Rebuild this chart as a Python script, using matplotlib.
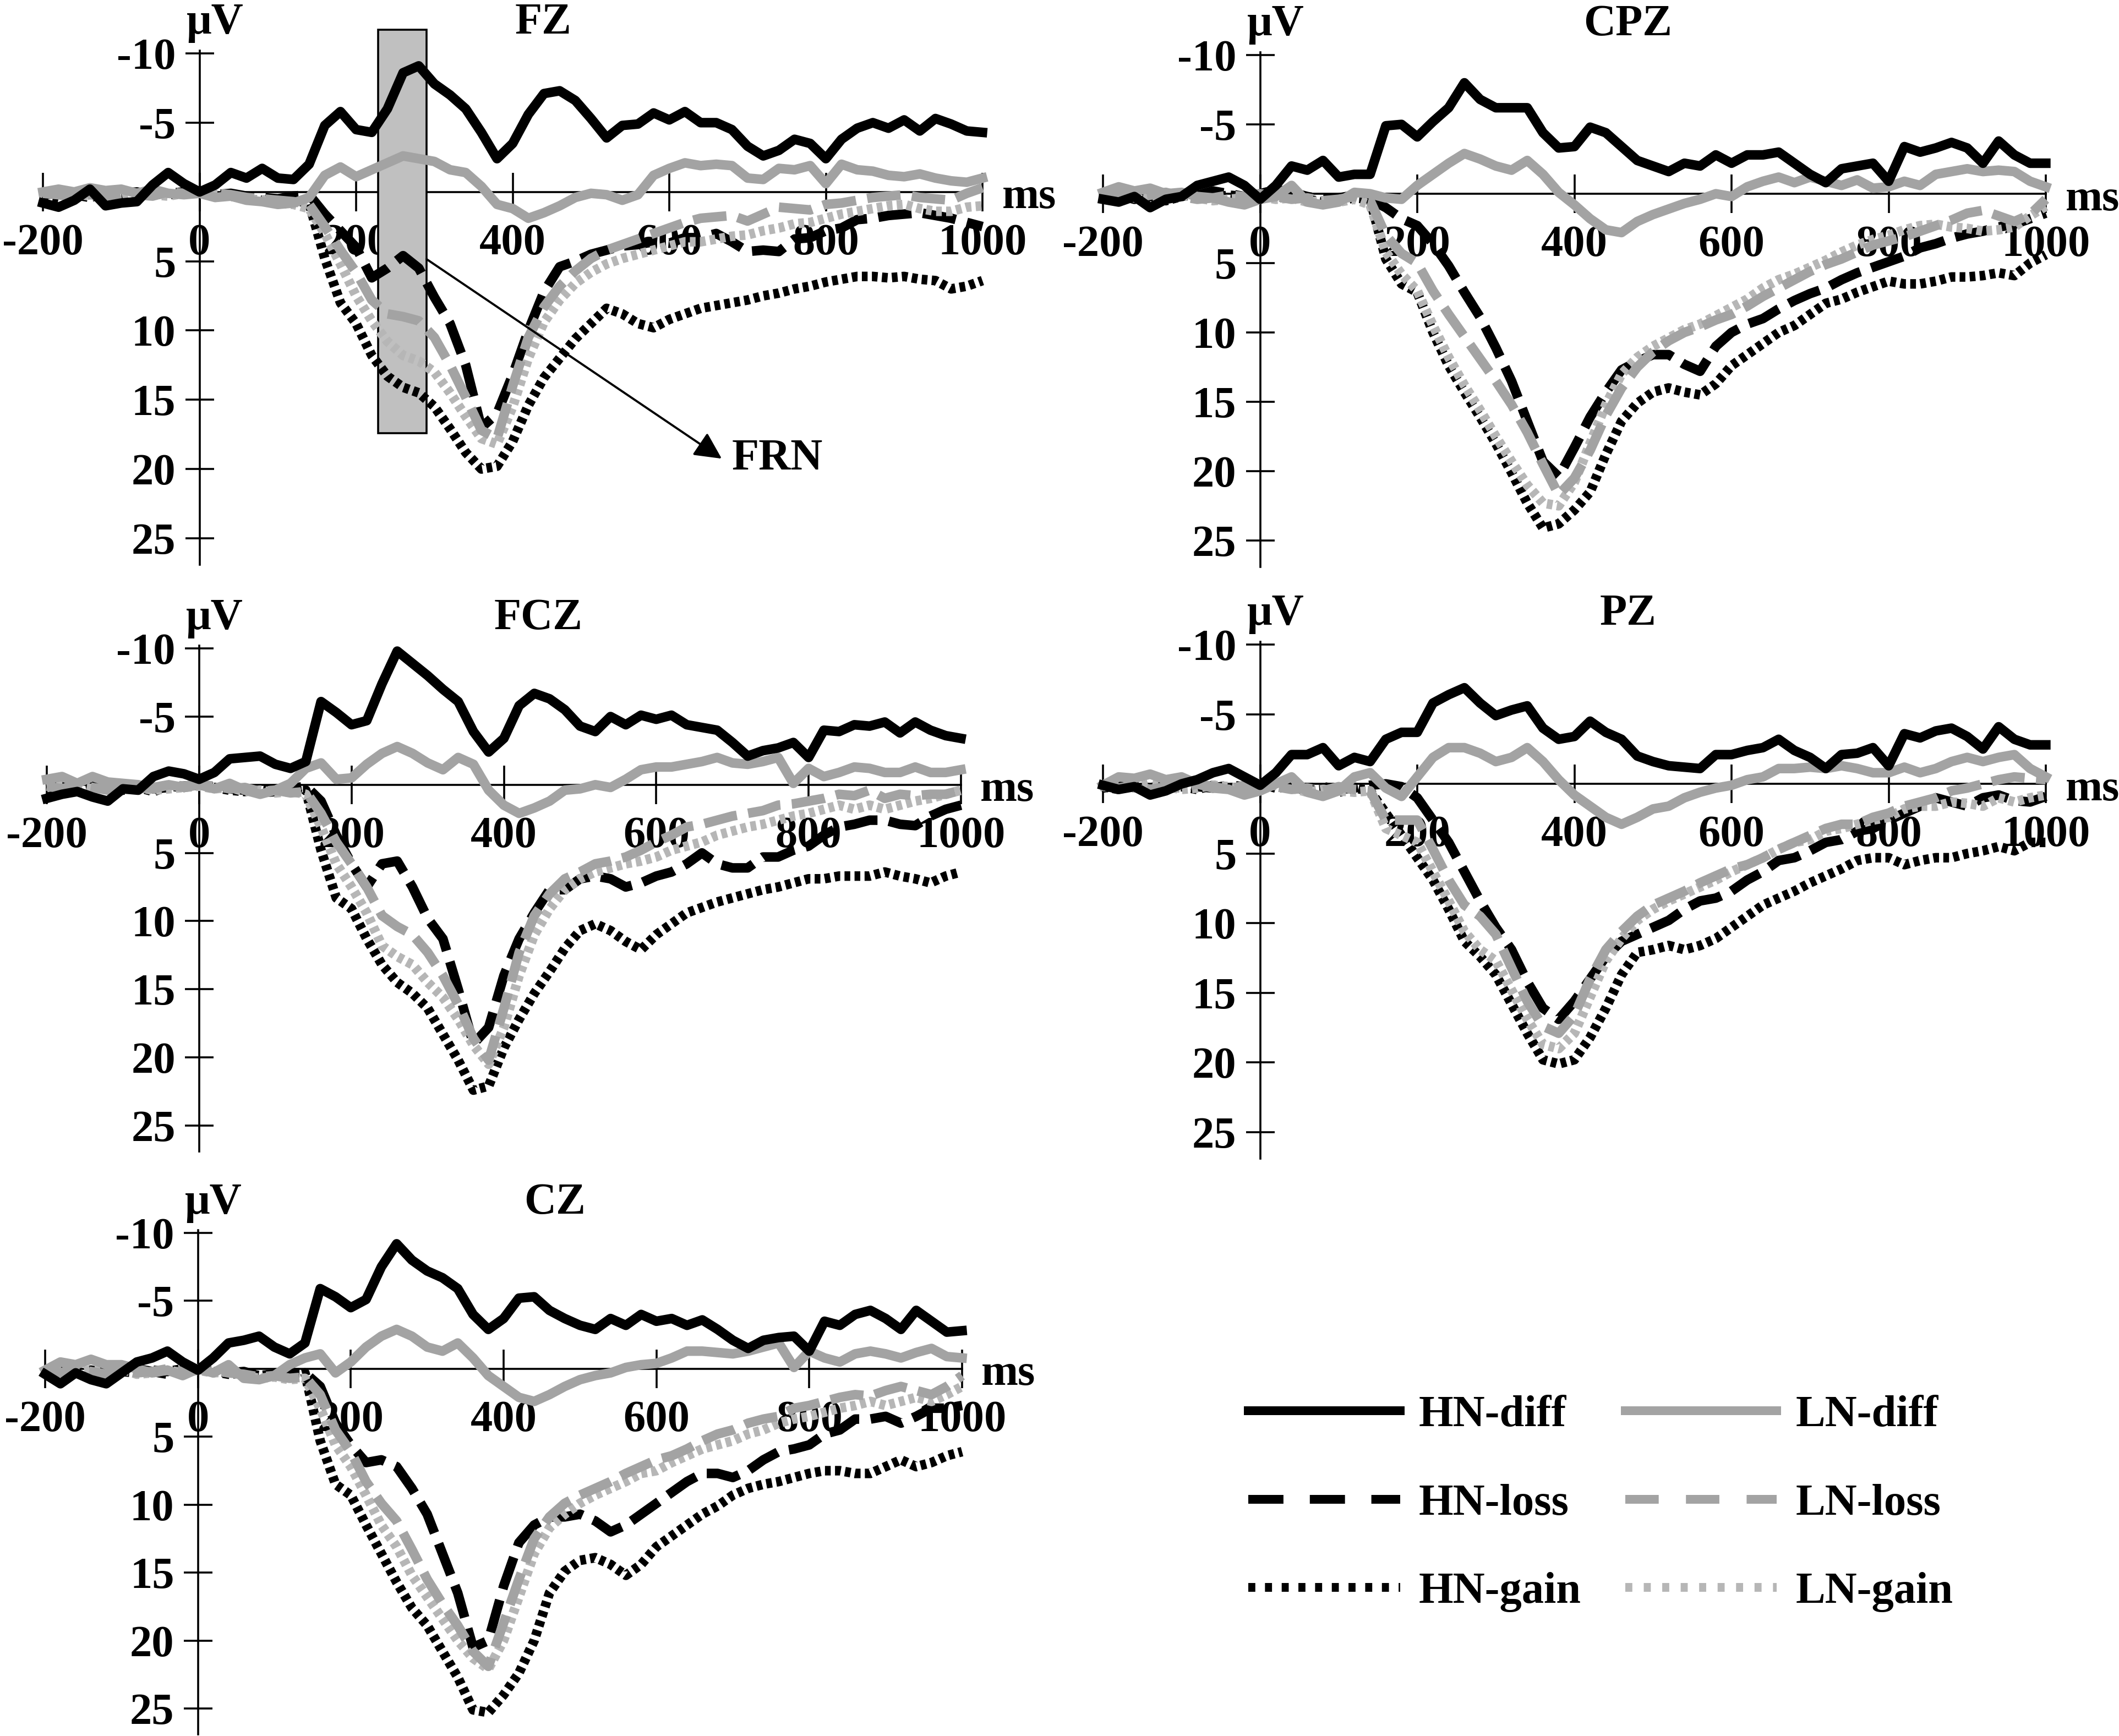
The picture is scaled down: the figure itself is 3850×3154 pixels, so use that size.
import numpy as np
import matplotlib
matplotlib.use("Agg")
import matplotlib.pyplot as plt
from matplotlib.lines import Line2D
from matplotlib.patches import Rectangle

plt.rcParams['font.family'] = ['Liberation Serif', 'DejaVu Serif']
plt.rcParams['font.weight'] = 'bold'
plt.rcParams['font.size'] = 58
plt.rcParams['axes.unicode_minus'] = False

W, H = 3850, 3154

# sampling grid of the traces (ms)
times = np.arange(-200, 1001, 20)

# ---- amplitudes in uV, every 20 ms (-200 .. 1000) ----
fz_hn_diff = [0.8, 1.1, 0.6, -0.2, 1.0, 0.8, 0.7, -0.5, -1.4, -0.6,
              0.0, -0.5, -1.4, -1.0, -1.7, -1.0, -0.9, -2.0, -4.8, -5.8,
              -4.5, -4.3, -6.0, -8.6, -9.1, -7.8, -7.0, -6.0, -4.3, -2.4,
              -3.5, -5.6, -7.1, -7.3, -6.6, -5.3, -3.9, -4.8, -4.9, -5.7,
              -5.2, -5.8, -5.0, -5.0, -4.5, -3.3, -2.6, -3.0, -3.8, -3.5,
              -2.4, -3.8, -4.6, -5.0, -4.6, -5.2, -4.4, -5.3, -4.9, -4.4,
              -4.3]
fz_hn_loss = [0.2, 0.1, 0.3, 0.0, 0.2, 0.1, 0.0, 0.2, 0.1, 0.0,
              0.0, 0.2, 0.1, 0.3, 0.4, 0.5, 0.3, 0.2, 1.6, 2.8,
              4.0, 6.2, 5.5, 4.6, 5.5, 7.6, 9.5, 12.5, 17.0, 16.0,
              13.2, 10.0, 7.2, 5.4, 5.0, 4.5, 4.2, 3.9, 3.8, 3.6,
              3.7, 3.3, 3.3, 3.0, 3.6, 4.3, 4.2, 4.3, 3.4, 3.3,
              2.8, 2.6, 2.0, 1.9, 1.7, 1.6, 1.5, 1.7, 1.9, 2.2,
              2.5]
fz_hn_gain = [0.3, 0.5, 0.2, 0.4, 0.1, 0.3, 0.2, 0.0, 0.2, 0.1,
              0.0, 0.2, 0.3, 0.5, 0.6, 0.7, 0.6, 0.8, 4.8, 8.0,
              9.5, 11.8, 13.3, 14.1, 14.5, 15.5, 17.1, 18.8, 20.0, 19.8,
              18.0, 15.4, 13.4, 12.0, 10.6, 9.5, 8.4, 8.8, 9.5, 9.8,
              9.2, 8.8, 8.4, 8.2, 8.0, 7.8, 7.5, 7.3, 7.0, 6.8,
              6.5, 6.3, 6.1, 6.1, 6.2, 6.1, 6.3, 6.4, 7.0, 6.8,
              6.4]
fz_ln_diff = [0.0, -0.2, 0.0, -0.3, -0.1, -0.2, 0.1, -0.2, 0.1, 0.2,
              0.1, 0.4, 0.3, 0.6, 0.7, 0.9, 0.8, 0.4, -1.2, -1.8,
              -1.1, -1.6, -2.1, -2.6, -2.4, -2.2, -1.6, -1.4, -0.4, 0.9,
              1.2, 1.9, 1.5, 1.0, 0.4, 0.1, 0.2, 0.6, 0.2, -1.2,
              -1.7, -2.1, -1.9, -2.0, -1.9, -1.0, -0.9, -1.7, -1.6, -1.9,
              -0.6, -2.0, -1.6, -1.5, -1.2, -1.1, -1.3, -1.0, -0.8, -0.7,
              -1.0]
fz_ln_loss = [0.1, 0.2, 0.4, 0.2, 0.3, 0.1, 0.2, 0.3, 0.0, 0.1,
              0.0, 0.1, 0.2, 0.4, 0.5, 0.6, 0.7, 0.9, 2.5, 4.2,
              5.8, 7.8, 8.8, 9.0, 9.3, 10.5, 12.5, 14.8, 17.2, 17.8,
              14.0, 10.5, 8.3, 6.8, 5.7, 4.8, 4.2, 3.8, 3.4, 3.0,
              2.6, 2.2, 1.9, 1.8, 1.7, 2.1, 1.6, 1.1, 1.2, 1.3,
              0.9, 0.8, 0.6, 0.4, 0.3, 0.2, 0.4, 0.5, 0.6, 0.1,
              -0.3]
fz_ln_gain = [0.0, 0.2, 0.1, 0.3, 0.2, 0.4, 0.1, 0.2, 0.3, 0.1,
              0.0, 0.2, 0.3, 0.5, 0.6, 0.8, 0.9, 1.2, 3.0, 5.2,
              7.5, 9.3, 10.8, 11.8, 12.2, 13.0, 14.5, 16.2, 17.8, 18.2,
              15.5, 12.0, 9.4, 7.8, 6.6, 5.8, 5.2, 4.8, 4.5, 4.2,
              3.9, 3.6, 3.6, 3.4, 3.2, 3.1, 2.8, 2.6, 2.3, 2.2,
              1.9, 1.6, 1.4, 1.2, 1.0, 0.9, 1.2, 1.4, 1.4, 1.1,
              1.0]

cpz_hn_diff = [0.4, 0.6, 0.2, 1.0, 0.4, 0.2, -0.6, -0.9, -1.2, -0.6,
               0.4, -0.6, -2.0, -1.7, -2.4, -1.2, -1.4, -1.4, -4.9, -5.0,
               -4.1, -5.2, -6.2, -8.0, -6.8, -6.2, -6.2, -6.2, -4.4, -3.3,
               -3.4, -4.8, -4.4, -3.4, -2.4, -2.0, -1.6, -2.2, -2.0, -2.8,
               -2.2, -2.8, -2.8, -3.0, -2.2, -1.4, -0.8, -1.8, -2.0, -2.2,
               -0.9, -3.4, -3.0, -3.3, -3.7, -3.3, -2.2, -3.8, -2.8, -2.2,
               -2.2]
cpz_hn_loss = [0.3, 0.1, 0.4, 0.2, 0.0, 0.3, 0.1, -0.2, 0.0, 0.2,
               0.0, -0.3, -0.1, 0.2, 0.4, 0.3, 0.1, 0.4, 1.0, 1.8,
               2.3, 3.6, 5.2, 7.1, 8.9, 11.1, 13.5, 16.4, 19.3, 20.4,
               18.3, 16.1, 14.3, 12.7, 12.1, 11.6, 11.6, 12.3, 12.8, 11.0,
               10.0, 9.4, 9.0, 8.3, 7.7, 7.2, 6.8, 6.2, 5.7, 5.3,
               4.9, 4.5, 3.9, 3.6, 3.2, 2.9, 2.7, 2.4, 2.2, 1.8,
               1.4]
cpz_hn_gain = [0.2, 0.4, 0.1, 0.3, 0.5, 0.2, 0.0, 0.3, 0.1, 0.2,
               0.0, 0.3, 0.2, 0.4, 0.6, 0.5, 0.3, 0.4, 4.7, 6.5,
               7.1, 10.0, 12.4, 14.3, 16.1, 18.0, 20.1, 22.3, 24.1, 23.8,
               22.8, 21.5, 18.8, 16.4, 15.1, 14.3, 14.0, 14.3, 14.5, 13.7,
               12.4, 11.6, 10.8, 10.0, 9.5, 8.7, 7.9, 7.6, 7.1, 6.7,
               6.3, 6.5, 6.5, 6.3, 6.0, 6.0, 5.9, 5.7, 5.9, 5.0,
               4.4]
cpz_ln_diff = [-0.1, -0.5, -0.2, -0.4, 0.0, -0.1, 0.2, 0.3, 0.6, 0.8,
               0.4, 0.2, -0.6, 0.6, 0.8, 0.6, -0.1, 0.0, 0.3, 0.4,
               -0.6, -1.4, -2.2, -2.9, -2.5, -2.0, -1.7, -2.4, -1.4, -0.1,
               0.8, 1.8, 2.6, 2.8, 2.0, 1.5, 1.1, 0.7, 0.4, 0.0,
               0.2, -0.5, -0.9, -1.2, -0.8, -1.2, -0.9, -0.6, -1.0, -0.4,
               -0.5, -0.9, -0.6, -1.4, -1.6, -1.8, -1.6, -1.7, -1.6, -0.9,
               -0.5]
cpz_ln_loss = [0.2, 0.0, 0.3, 0.1, -0.1, 0.2, 0.4, 0.3, 0.1, 0.2,
               0.0, 0.2, 0.4, 0.3, 0.5, 0.4, 0.2, 0.5, 3.0, 4.3,
               5.0, 7.0, 8.7, 10.3, 11.9, 13.5, 15.2, 17.2, 19.5, 21.7,
               20.5, 18.5, 16.0, 14.0, 12.5, 11.4, 10.6, 10.0, 9.6, 9.1,
               8.7, 8.1, 7.4, 6.8, 6.2, 5.6, 5.1, 4.7, 4.2, 3.7,
               3.4, 3.1, 2.7, 2.3, 1.9, 1.4, 1.2, 1.6, 2.0, 1.5,
               0.4]
cpz_ln_gain = [0.1, 0.3, 0.2, 0.4, 0.2, 0.1, 0.3, 0.5, 0.4, 0.3,
               0.2, 0.4, 0.3, 0.6, 0.5, 0.6, 0.4, 0.8, 4.2, 5.8,
               7.0, 9.5, 11.8, 13.8, 15.6, 17.5, 19.3, 21.0, 22.3, 22.5,
               20.8, 18.0, 15.2, 13.0, 11.8, 11.0, 10.4, 9.8, 9.4, 8.8,
               8.2, 7.6, 6.8, 6.2, 5.8, 5.3, 4.8, 4.2, 3.7, 3.3,
               3.0, 2.6, 2.3, 2.2, 2.4, 2.5, 2.7, 2.6, 2.4, 1.6,
               0.9]

fcz_hn_diff = [1.0, 0.7, 0.5, 0.9, 1.2, 0.3, 0.4, -0.6, -1.0, -0.8,
               -0.4, -0.9, -1.9, -2.0, -2.1, -1.5, -1.2, -1.7, -6.1, -5.3,
               -4.4, -4.7, -7.4, -9.8, -8.9, -8.0, -7.0, -6.1, -3.9, -2.4,
               -3.4, -5.8, -6.7, -6.3, -5.5, -4.3, -3.9, -5.0, -4.4, -5.1,
               -4.8, -5.1, -4.4, -4.2, -4.0, -3.1, -2.1, -2.5, -2.7, -3.1,
               -2.0, -4.0, -3.9, -4.4, -4.3, -4.6, -3.8, -4.6, -4.0, -3.6,
               -3.4]
fcz_hn_loss = [0.2, 0.0, 0.3, 0.1, 0.2, 0.4, 0.1, 0.3, 0.2, 0.1,
               0.0, 0.2, 0.3, 0.4, 0.6, 0.5, 0.3, 0.1, 1.2, 3.7,
               5.8, 7.5, 5.8, 5.6, 7.5, 9.8, 11.3, 15.0, 19.0, 17.8,
               14.0, 11.3, 9.4, 7.7, 7.7, 6.9, 6.7, 6.9, 7.5, 7.2,
               6.7, 6.4, 5.8, 5.0, 5.8, 6.1, 6.1, 5.3, 5.3, 4.8,
               4.5, 3.7, 3.1, 2.9, 2.6, 2.6, 2.9, 3.0, 2.3, 1.8,
               1.5]
fcz_hn_gain = [0.3, 0.1, 0.4, 0.2, 0.0, 0.3, 0.2, 0.5, 0.1, 0.2,
               0.0, 0.2, 0.4, 0.5, 0.3, 0.5, 0.4, 0.4, 4.8, 8.3,
               9.1, 11.3, 13.2, 14.5, 15.3, 16.4, 18.3, 20.2, 22.4, 22.1,
               19.3, 17.2, 15.3, 13.7, 12.0, 10.7, 10.2, 10.7, 11.5, 12.1,
               11.0, 10.2, 9.4, 9.0, 8.6, 8.3, 8.0, 7.7, 7.5, 7.2,
               6.9, 6.9, 6.7, 6.7, 6.7, 6.4, 6.7, 6.9, 7.2, 6.7,
               6.4]
fcz_ln_diff = [-0.4, -0.6, -0.1, -0.6, -0.2, -0.1, 0.0, 0.3, 0.0, 0.2,
               0.0, 0.3, -0.1, 0.4, 0.7, 0.4, -0.1, -1.2, -1.6, -0.4,
               -0.5, -1.5, -2.3, -2.8, -2.3, -1.6, -1.1, -2.0, -1.5, 0.4,
               1.5, 2.1, 1.7, 1.2, 0.4, 0.3, 0.0, 0.2, -0.4, -1.1,
               -1.3, -1.3, -1.5, -1.7, -2.0, -1.6, -1.5, -1.7, -2.0, -0.1,
               -1.2, -0.6, -0.9, -1.3, -1.2, -0.9, -0.9, -1.3, -0.9, -0.9,
               -1.1]
fcz_ln_loss = [0.1, 0.3, 0.0, 0.2, 0.4, 0.1, 0.3, 0.2, 0.0, 0.1,
               0.0, 0.1, 0.3, 0.2, 0.5, 0.4, 0.6, 0.5, 2.1, 4.2,
               5.8, 7.5, 9.6, 10.4, 11.0, 12.3, 14.0, 16.1, 18.6, 20.2,
               16.4, 12.3, 9.6, 8.0, 6.9, 6.4, 5.8, 5.6, 5.3, 4.8,
               4.2, 3.7, 3.1, 2.9, 2.6, 2.3, 2.1, 1.9, 1.5, 1.4,
               1.2, 1.0, 0.7, 0.8, 0.4, 1.0, 0.7, 0.8, 0.7, 0.7,
               0.4]
fcz_ln_gain = [0.2, 0.0, 0.1, 0.3, 0.2, 0.0, 0.2, 0.4, 0.3, 0.2,
               0.1, 0.3, 0.2, 0.5, 0.4, 0.6, 0.5, 0.7, 3.1, 5.8,
               7.5, 9.4, 11.8, 12.6, 13.2, 14.5, 15.6, 17.2, 19.1, 20.5,
               17.8, 14.0, 11.0, 9.1, 7.7, 6.9, 6.4, 6.1, 5.8, 5.6,
               5.3, 4.8, 4.5, 4.2, 3.7, 3.4, 3.1, 2.9, 2.6, 2.3,
               2.1, 1.8, 1.5, 1.8, 1.5, 1.8, 1.5, 1.2, 1.0, 0.7,
               0.4]

pz_hn_diff = [0.1, 0.4, 0.2, 0.8, 0.5, 0.0, -0.3, -0.8, -1.1, -0.5,
              0.1, -0.8, -2.1, -2.1, -2.6, -1.3, -1.9, -1.6, -3.2, -3.7,
              -3.7, -5.8, -6.4, -6.9, -5.8, -4.9, -5.3, -5.6, -4.0, -3.2,
              -3.4, -4.5, -3.7, -3.2, -2.0, -1.6, -1.3, -1.2, -1.1, -2.1,
              -2.1, -2.4, -2.6, -3.2, -2.4, -1.9, -1.1, -2.1, -2.2, -2.6,
              -1.3, -3.6, -3.3, -3.8, -4.0, -3.4, -2.5, -4.1, -3.2, -2.8,
              -2.8]
pz_hn_loss = [0.3, 0.1, 0.2, 0.4, 0.1, 0.0, 0.2, 0.3, 0.1, 0.2,
              0.0, 0.2, 0.1, 0.3, 0.2, 0.4, 0.3, 0.1, 0.0, 0.2,
              1.0, 2.6, 4.2, 6.3, 8.4, 10.3, 11.9, 14.2, 16.1, 16.9,
              15.6, 14.0, 12.4, 11.3, 10.8, 10.3, 9.8, 9.0, 8.4, 8.2,
              7.7, 6.9, 6.3, 5.5, 5.3, 4.8, 4.2, 4.0, 3.4, 3.2,
              2.6, 2.1, 1.6, 1.0, 1.3, 1.6, 1.0, 0.8, 1.2, 1.3,
              0.9]
pz_hn_gain = [0.2, 0.4, 0.1, 0.3, 0.0, 0.2, 0.4, 0.1, 0.3, 0.2,
              0.0, 0.3, 0.2, 0.5, 0.4, 0.6, 0.3, 0.5, 2.1, 3.7,
              5.3, 6.9, 9.0, 11.3, 12.4, 13.7, 15.8, 17.9, 19.8, 20.1,
              19.8, 18.2, 16.1, 13.7, 12.1, 11.9, 11.6, 11.9, 11.6, 11.1,
              10.3, 9.5, 8.7, 8.2, 7.7, 7.1, 6.6, 6.1, 5.5, 5.3,
              5.3, 5.8, 5.5, 5.3, 5.3, 5.0, 4.8, 4.5, 4.8, 4.2,
              4.2]
pz_ln_diff = [0.1, -0.5, -0.4, -0.7, -0.3, -0.5, 0.0, 0.3, 0.4, 0.8,
              0.5, 0.0, -0.5, 0.6, 0.9, 0.5, -0.5, -0.8, 0.3, 0.9,
              -0.5, -1.9, -2.6, -2.6, -2.2, -1.6, -1.9, -2.6, -1.6, -0.3,
              0.8, 1.6, 2.4, 2.9, 2.4, 1.8, 1.6, 1.0, 0.6, 0.3,
              0.1, -0.3, -0.5, -1.1, -1.1, -1.2, -1.1, -1.3, -1.1, -0.8,
              -0.8, -1.2, -0.8, -1.1, -1.6, -1.9, -1.6, -1.9, -2.1, -1.1,
              -0.5]
pz_ln_loss = [0.0, 0.3, 0.1, 0.4, 0.2, 0.3, 0.0, 0.2, 0.4, 0.1,
              0.0, 0.2, 0.4, 0.3, 0.5, 0.2, 0.4, 0.5, 2.6, 2.6,
              2.6, 4.7, 6.9, 8.7, 9.5, 10.8, 13.2, 15.6, 17.4, 17.9,
              16.6, 14.0, 11.9, 10.6, 9.5, 8.7, 8.2, 7.7, 7.1, 6.6,
              6.1, 5.8, 5.3, 4.7, 4.2, 3.7, 3.2, 2.9, 2.9, 2.4,
              2.1, 1.6, 1.3, 1.0, 0.5, 0.3, 0.0, -0.3, -0.5, -0.4,
              -0.3]
pz_ln_gain = [0.2, 0.1, 0.3, 0.0, 0.2, 0.4, 0.3, 0.1, 0.2, 0.4,
              0.2, 0.1, 0.3, 0.6, 0.4, 0.5, 0.6, 0.5, 3.2, 3.7,
              4.2, 6.3, 8.4, 10.6, 11.9, 12.7, 14.8, 16.9, 18.7, 19.0,
              17.9, 15.3, 12.7, 11.1, 9.8, 9.0, 8.4, 7.9, 7.4, 6.9,
              6.3, 5.8, 5.3, 4.7, 4.2, 4.0, 3.4, 3.2, 2.9, 2.6,
              2.4, 1.8, 1.6, 1.6, 1.3, 1.4, 1.6, 1.0, 1.3, 1.0,
              0.8]

cz_hn_diff = [0.4, 1.1, 0.3, 0.8, 1.1, 0.3, -0.5, -0.8, -1.3, -0.5,
              0.1, -0.8, -1.9, -2.1, -2.4, -1.6, -1.1, -1.9, -5.9, -5.3,
              -4.5, -5.1, -7.5, -9.2, -8.0, -7.2, -6.7, -5.9, -4.0, -2.9,
              -3.7, -5.2, -5.3, -4.3, -3.7, -3.2, -2.9, -3.7, -3.2, -4.0,
              -3.5, -3.7, -3.2, -3.6, -2.9, -2.1, -1.5, -2.1, -2.3, -2.4,
              -1.3, -3.5, -3.2, -4.0, -4.3, -3.7, -2.9, -4.3, -3.5, -2.7,
              -2.8]
cz_hn_loss = [0.2, 0.0, 0.3, 0.1, 0.3, 0.2, 0.0, 0.2, 0.4, 0.1,
              0.0, 0.2, 0.3, 0.2, 0.5, 0.4, 0.3, 0.3, 1.3, 4.0,
              5.6, 6.9, 6.7, 7.2, 8.8, 10.7, 13.6, 16.5, 20.5, 20.0,
              16.0, 12.8, 11.5, 10.9, 10.9, 10.7, 11.2, 12.0, 11.5, 10.7,
              9.9, 9.1, 8.3, 7.7, 7.7, 8.0, 7.5, 6.7, 6.1, 5.9,
              5.6, 4.8, 4.5, 3.7, 3.7, 3.5, 4.0, 3.5, 2.9, 2.9,
              2.7]
cz_hn_gain = [0.3, 0.1, 0.2, 0.4, 0.0, 0.2, 0.3, 0.1, 0.2, 0.0,
              0.0, 0.2, 0.4, 0.3, 0.5, 0.4, 0.6, 0.3, 5.3, 8.5,
              9.3, 11.5, 13.6, 15.7, 17.6, 18.9, 20.8, 22.7, 25.1, 25.3,
              24.0, 22.4, 20.0, 16.5, 14.9, 14.1, 13.9, 14.4, 15.2, 14.4,
              13.1, 12.3, 11.5, 10.7, 10.1, 9.3, 8.8, 8.5, 8.3, 8.0,
              7.7, 7.5, 7.5, 7.7, 7.7, 7.2, 6.7, 7.2, 6.9, 6.4,
              6.1]
cz_ln_diff = [0.1, -0.5, -0.3, -0.7, -0.3, -0.3, 0.0, 0.3, 0.1, 0.5,
              0.0, 0.3, -0.3, 0.7, 0.8, 0.5, -0.3, -0.8, -1.1, 0.3,
              -0.5, -1.6, -2.4, -2.9, -2.4, -1.6, -1.3, -1.9, -0.8, 0.5,
              1.3, 2.1, 2.4, 1.9, 1.3, 0.8, 0.5, 0.3, -0.1, -0.3,
              -0.4, -0.8, -1.3, -1.3, -1.2, -1.1, -1.3, -1.6, -1.9, -0.1,
              -1.3, -0.8, -0.5, -1.1, -1.3, -1.1, -0.8, -1.2, -1.5, -0.9,
              -0.8]
cz_ln_loss = [0.1, 0.3, 0.0, 0.2, 0.4, 0.1, 0.3, 0.2, 0.0, 0.2,
              0.0, 0.1, 0.3, 0.4, 0.6, 0.5, 0.7, 0.6, 1.9, 4.5,
              6.1, 8.3, 9.9, 11.2, 13.3, 15.5, 17.3, 18.9, 20.8, 21.9,
              18.7, 15.5, 12.5, 10.9, 9.9, 9.3, 8.8, 8.3, 7.7, 7.2,
              6.7, 6.4, 5.9, 5.3, 4.8, 4.5, 4.0, 3.7, 3.5, 2.9,
              2.7, 2.4, 2.1, 1.9, 2.0, 1.6, 1.3, 1.6, 1.9, 1.3,
              0.5]
cz_ln_gain = [0.2, 0.0, 0.3, 0.1, 0.2, 0.0, 0.4, 0.3, 0.1, 0.3,
              0.1, 0.3, 0.2, 0.5, 0.7, 0.6, 0.8, 0.7, 2.9, 5.6,
              7.2, 9.3, 11.5, 13.1, 15.2, 16.8, 18.4, 20.0, 21.3, 22.1,
              20.0, 16.8, 13.6, 11.7, 10.7, 9.9, 9.3, 8.8, 8.3, 7.7,
              7.5, 6.9, 6.4, 5.9, 5.6, 5.3, 4.8, 4.5, 4.0, 3.7,
              3.5, 3.2, 2.9, 2.7, 2.4, 2.7, 2.4, 2.1, 2.4, 1.9,
              1.3]

series_names = ["HN-diff", "HN-loss", "HN-gain", "LN-diff", "LN-loss", "LN-gain"]
x_ticks = [-200, 0, 200, 400, 600, 800, 1000]
y_ticks = [-10, -5, 5, 10, 15, 20, 25]

gray = "#a3a3a3"
light = "#b6b6b6"
line_style = {
    "HN-diff": dict(color="black", ls="-"),
    "HN-loss": dict(color="black", dashes=(3.5, 1.2)),
    "HN-gain": dict(color="black", dashes=(0.6, 0.45)),
    "LN-diff": dict(color=gray, ls="-"),
    "LN-loss": dict(color=gray, dashes=(3.5, 1.2)),
    "LN-gain": dict(color=light, dashes=(0.6, 0.45)),
}
legend_style = {
    "HN-diff": dict(color="black", ls="-"),
    "HN-loss": dict(color="black", dashes=(4.0, 3.0)),
    "HN-gain": dict(color="black", dashes=(0.8, 1.1)),
    "LN-diff": dict(color=gray, ls="-"),
    "LN-loss": dict(color=gray, dashes=(3.8, 3.1)),
    "LN-gain": dict(color=light, dashes=(0.8, 1.3)),
}
draw_order = ["HN-gain", "HN-loss", "LN-gain", "LN-loss", "LN-diff", "HN-diff"]

# panel placement: pixel position of x=-200, x=1000, y=-10, y=25 and title x (ms)
panels = [
    ("FZ", 439, (78, 1785, 97, 978),
     [fz_hn_diff, fz_hn_loss, fz_hn_gain, fz_ln_diff, fz_ln_loss, fz_ln_gain]),
    ("CPZ", 468, (2004, 3717, 100, 982),
     [cpz_hn_diff, cpz_hn_loss, cpz_hn_gain, cpz_ln_diff, cpz_ln_loss, cpz_ln_gain]),
    ("FCZ", 445, (85, 1746, 1178, 2045),
     [fcz_hn_diff, fcz_hn_loss, fcz_hn_gain, fcz_ln_diff, fcz_ln_loss, fcz_ln_gain]),
    ("PZ", 468, (2004, 3717, 1171, 2057),
     [pz_hn_diff, pz_hn_loss, pz_hn_gain, pz_ln_diff, pz_ln_loss, pz_ln_gain]),
    ("CZ", 467, (82, 1748, 2240, 3104),
     [cz_hn_diff, cz_hn_loss, cz_hn_gain, cz_ln_diff, cz_ln_loss, cz_ln_gain]),
]

Y_TOP, Y_BOT = -13, 27
LW = 12.5

fig = plt.figure(figsize=(W / 100, H / 100), dpi=100)
axes = {}
for name, title_t, (x0, x1, ym10, y25), values in panels:
    ppu = (y25 - ym10) / 35.0
    top = ym10 - (-10 - Y_TOP) * ppu
    bot = y25 + (Y_BOT - 25) * ppu
    ax = fig.add_axes([x0 / W, 1 - bot / H, (x1 - x0) / W, (bot - top) / H])
    ax.patch.set_alpha(0)
    ax.set_xlim(-200, 1000)
    ax.set_ylim(Y_BOT, Y_TOP)

    data = dict(zip(series_names, values))
    for s in draw_order:
        ax.plot(times, data[s], lw=LW, zorder=3, clip_on=False,
                solid_joinstyle="round", dash_joinstyle="round", **line_style[s])

    for side in ["top", "right"]:
        ax.spines[side].set_visible(False)
    ax.spines["left"].set_position(("data", 0))
    ax.spines["bottom"].set_position(("data", 0))
    ax.spines["left"].set_bounds(-10.2, 26.9)
    ax.spines["bottom"].set_bounds(-200, 1000)
    for side in ["left", "bottom"]:
        ax.spines[side].set_linewidth(2.6)
    ax.set_xticks(x_ticks)
    ax.set_yticks(y_ticks)
    ax.tick_params(axis="x", direction="inout", length=50, width=2.6, pad=16, labelsize=58)
    ax.tick_params(axis="y", direction="inout", length=38, width=2.6, pad=12, labelsize=58)

    ax.text(title_t, -12.2, name, ha="center", va="center", fontsize=58, fontweight="bold")
    ax.text(20, -12.2, "μV", ha="center", va="center", fontsize=58, fontweight="bold")
    ax.text(1025, 0.4, "ms", ha="left", va="center", fontsize=58, fontweight="bold")
    axes[name] = ax

# FRN window and arrow on FZ
fz = axes["FZ"]
fz.add_patch(Rectangle((228, -11.7), 62, 29.1, facecolor="#c0c0c0",
                       edgecolor="black", lw=2.6, zorder=2.6, clip_on=False))
fz.annotate("", xy=(667, 19.25), xytext=(290, 4.85),
            arrowprops=dict(arrowstyle="-|>", lw=2.8, color="black",
                            mutation_scale=75, shrinkA=0, shrinkB=0))
fz.text(680, 19.25, "FRN", ha="left", va="center", fontsize=58, fontweight="bold")

# legend
handles = [Line2D([], [], lw=11.5, **legend_style[s]) for s in series_names]
fig.legend(handles, series_names, ncol=2, loc="upper left",
           bbox_to_anchor=(2268 / W, 1 - 2535 / H), frameon=False,
           handlelength=3.42, handletextpad=0.42, columnspacing=1.0,
           labelspacing=1.08, borderpad=0, borderaxespad=0, fontsize=58)

fig.savefig("out.png", dpi=100)
